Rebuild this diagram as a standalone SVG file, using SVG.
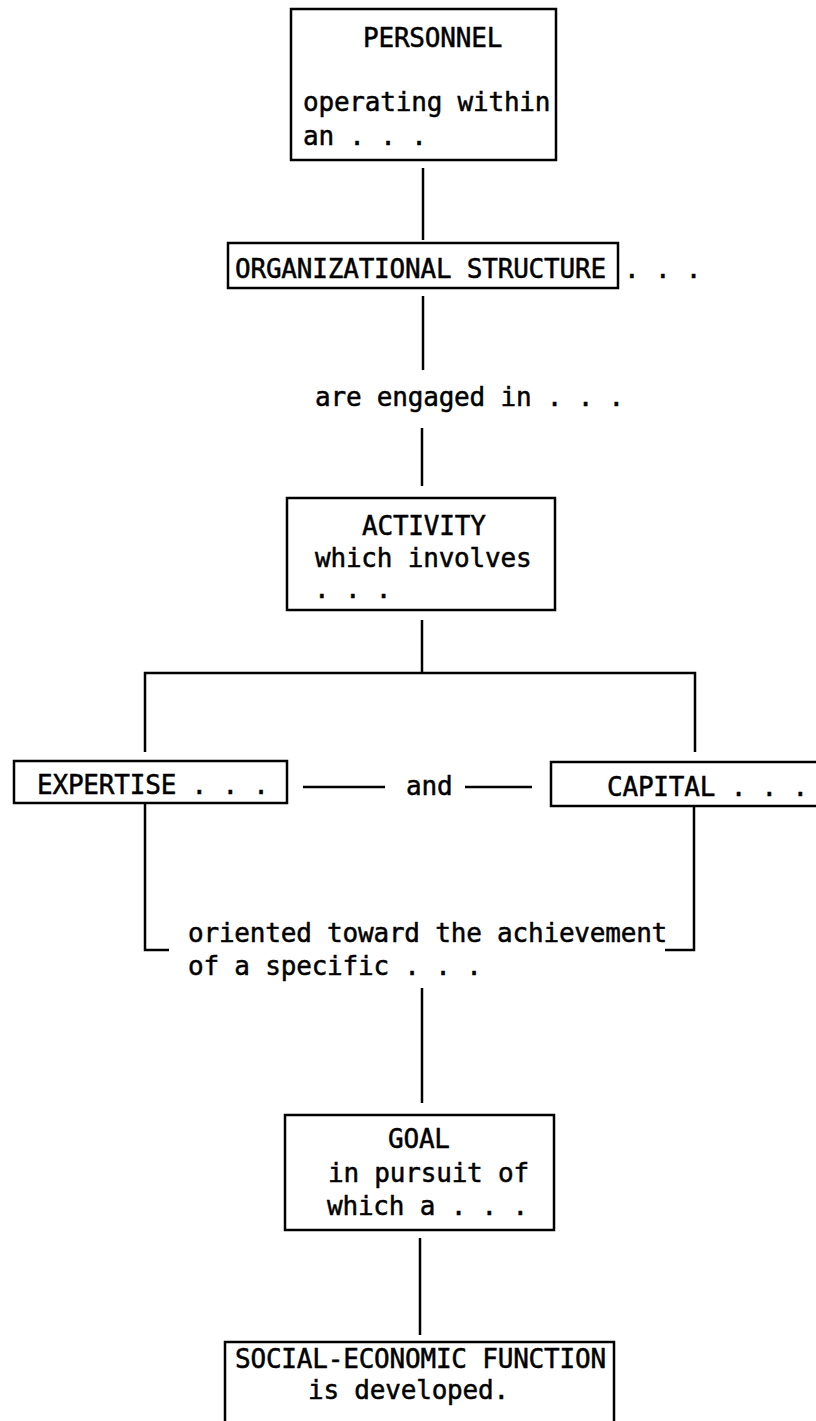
<svg xmlns="http://www.w3.org/2000/svg" width="816" height="1421" viewBox="0 0 816 1421">
<style>
.box{fill:#fff;stroke:#000;stroke-width:2.5}
.ln{stroke:#000;stroke-width:2.5;fill:none}
text{font-family:"DejaVu Sans Mono","Liberation Mono",monospace;font-size:26px;letter-spacing:-0.2px;fill:#000;stroke:#000;stroke-width:0.5}
</style>
<rect width="816" height="1421" fill="#fff"/>
<g id="connectors">
<line class="ln" x1="423" y1="168" x2="423" y2="240"/>
<line class="ln" x1="423" y1="296" x2="423" y2="370"/>
<line class="ln" x1="422" y1="428" x2="422" y2="486"/>
<line class="ln" x1="422" y1="620" x2="422" y2="673"/>
<polyline class="ln" points="145,752 145,673 695,673 695,752"/>
<line class="ln" x1="303" y1="787" x2="385" y2="787"/>
<text x="406" y="795">and</text>
<line class="ln" x1="465" y1="787" x2="532" y2="787"/>
<polyline class="ln" points="145,803 145,950 169,950"/>
<polyline class="ln" points="665,950 694,950 694,806"/>
<line class="ln" x1="422" y1="988" x2="422" y2="1103"/>
<line class="ln" x1="420" y1="1238" x2="420" y2="1335"/>
</g>
<g id="personnel">
<rect class="box" x="291" y="9" width="265" height="151"/>
<text x="363" y="47">PERSONNEL</text>
<text x="303" y="111">operating within</text>
<text x="303" y="145">an . . .</text>
</g>
<g id="organizational-structure">
<rect class="box" x="228" y="243" width="390" height="45"/>
<text x="235" y="278">ORGANIZATIONAL STRUCTURE</text>
<text x="624" y="278">. . .</text>
</g>
<g id="engaged">
<text x="315" y="406">are engaged in . . .</text>
</g>
<g id="activity">
<rect class="box" x="287" y="498" width="268" height="112"/>
<text x="362" y="535">ACTIVITY</text>
<text x="315" y="567">which involves</text>
<text x="314" y="598">. . .</text>
</g>
<g id="expertise">
<rect class="box" x="14" y="761" width="273" height="42"/>
<text x="37" y="794">EXPERTISE . . .</text>
</g>
<g id="capital">
<rect class="box" x="551" y="762" width="275" height="44"/>
<text x="607" y="796">CAPITAL . . .</text>
</g>
<g id="oriented">
<text x="188" y="942">oriented toward the achievement</text>
<text x="188" y="975">of a specific . . .</text>
</g>
<g id="goal">
<rect class="box" x="285" y="1115" width="269" height="115"/>
<text x="388" y="1148">GOAL</text>
<text x="328" y="1182">in pursuit of</text>
<text x="327" y="1215">which a . . .</text>
</g>
<g id="social-economic-function">
<rect class="box" x="225" y="1342" width="389" height="100"/>
<text x="235" y="1368">SOCIAL-ECONOMIC FUNCTION</text>
<text x="308" y="1399">is developed.</text>
</g>
</svg>
